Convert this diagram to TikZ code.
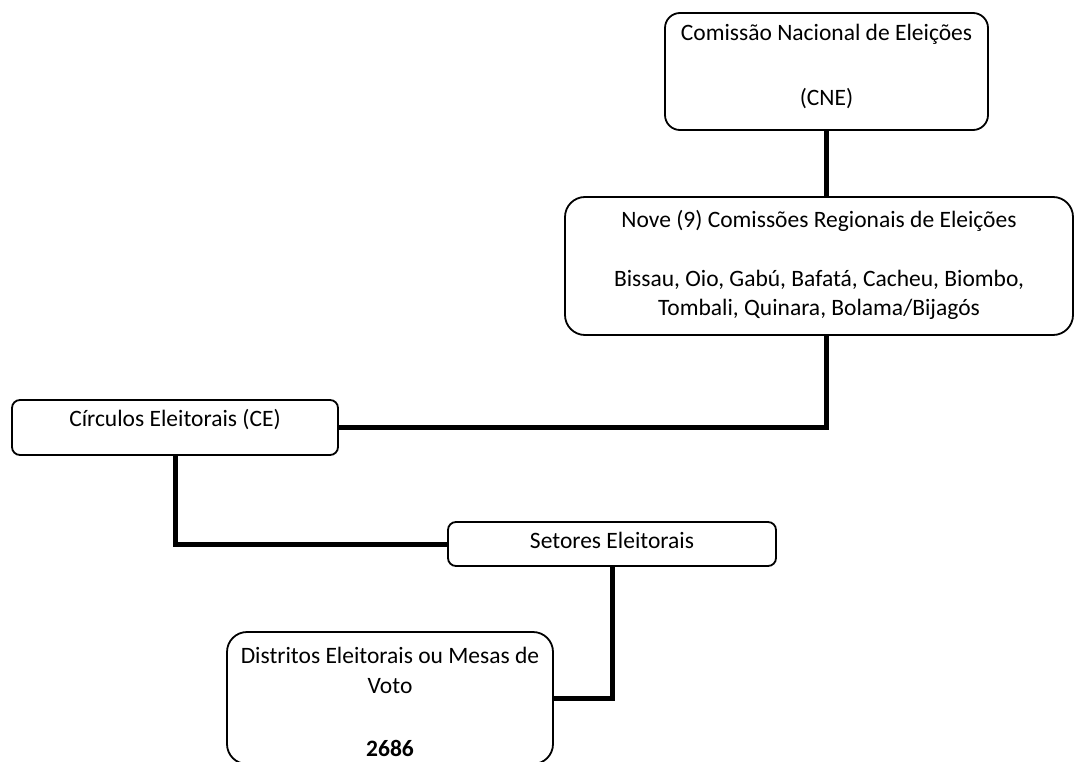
\documentclass[tikz,border=0pt]{standalone}
\usepackage{fontspec}
\setmainfont{Carlito}
\begin{document}
\begin{tikzpicture}[x=1pt,y=-1pt,
  box/.style={draw=black, line width=1.8pt, inner sep=0pt},
  conn/.style={draw=black, line width=5pt},
  lbl/.style={inner sep=0pt, text height=17pt, text depth=5pt, font=\fontsize{23.5}{28}\selectfont}]
\fill[white] (0,0) rectangle (1076,762);
\useasboundingbox (0,0) rectangle (1076,762);

% boxes
\node[box, rounded corners=15pt, minimum width=323pt, minimum height=117pt] (cne) at (826.5,71.5) {};
\node[box, rounded corners=20pt, minimum width=508pt, minimum height=138pt] (nove) at (819,266) {};
\node[box, rounded corners=8pt, minimum width=326pt, minimum height=55pt] (circ) at (175,427.5) {};
\node[box, rounded corners=8pt, minimum width=328pt, minimum height=44pt] (setr) at (612,544) {};
\node[box, rounded corners=20pt, minimum width=326pt, minimum height=132pt] (dist) at (390,698) {};

% texts
\node[lbl] (t1) at (826.5,35) {Comissão Nacional de Eleições};
\node[lbl] (t2) at (826.5,100) {(CNE)};
\node[lbl] (t3) at (819,222) {Nove (9) Comissões Regionais de Eleições};
\node[lbl] (t4) at (819,280) {Bissau, Oio, Gabú, Bafatá, Cacheu, Biombo,};
\node[lbl] (t5) at (819,309) {Tombali, Quinara, Bolama/Bijagós};
\node[lbl] (t6) at (175,420) {Círculos Eleitorais (CE)};
\node[lbl] (t7) at (612,542) {Setores Eleitorais};
\node[lbl] (t8) at (390,657) {Distritos Eleitorais ou Mesas de};
\node[lbl] (t9) at (390,687) {Voto};
\node[lbl, font=\fontsize{23.5}{28}\selectfont\bfseries] (t10) at (390,750) {2686};

% connectors
\draw[conn] (cne.south) -- (cne.south |- nove.north);
\draw[conn] (nove.south -| cne.south) |- (circ.east);
\draw[conn] (circ.south) |- (setr.west);
\draw[conn] (setr.south) |- (dist.east);
\end{tikzpicture}
\end{document}
